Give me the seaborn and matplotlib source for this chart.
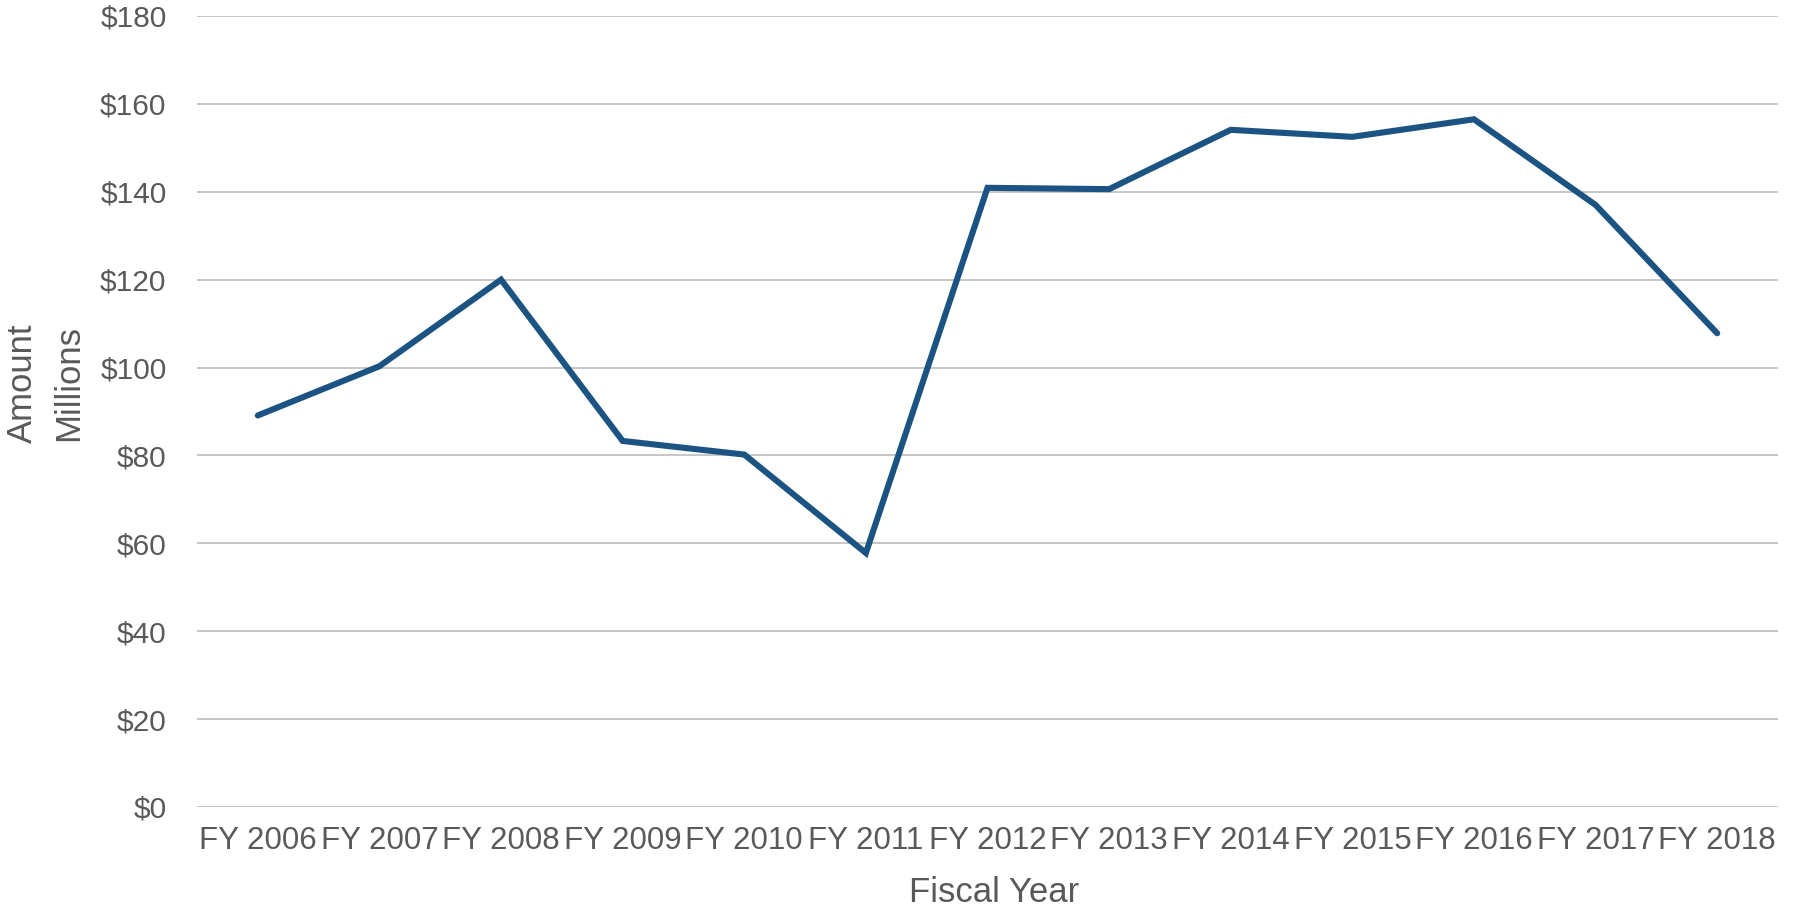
import matplotlib
matplotlib.use("Agg")
import matplotlib.pyplot as plt
import seaborn as sns
import pandas as pd

years = ["FY 2006", "FY 2007", "FY 2008", "FY 2009", "FY 2010", "FY 2011", "FY 2012",
         "FY 2013", "FY 2014", "FY 2015", "FY 2016", "FY 2017", "FY 2018"]
amounts = [89.1, 100.3, 120.0, 83.3, 80.2, 57.8, 140.9, 140.6, 154.1, 152.5, 156.5, 137.0, 107.8]
y_ticks = [0, 20, 40, 60, 80, 100, 120, 140, 160, 180]

df = pd.DataFrame({"Fiscal Year": years, "Amount": amounts})

sns.set_theme(style="white")
plt.rcParams['font.family'] = ['Liberation Sans', 'DejaVu Sans']

text_color = "#595959"
fig = plt.figure(figsize=(17.95, 9.08), dpi=100)
ax = fig.add_axes([197/1795, 1 - 807/908, (1778-197)/1795, (807-16)/908])

sns.lineplot(data=df, x="Fiscal Year", y="Amount", ax=ax, color="#1b5482",
             linewidth=4.4, solid_capstyle="round", solid_joinstyle="miter", sort=False)

ax.set_xlim(-0.5, len(years) - 0.5)
ax.set_ylim(0, 180)
ax.set_yticks(y_ticks)
ax.set_yticklabels([f"${v}" for v in y_ticks])
ax.yaxis.grid(True, color="#c6c6c6", linewidth=1.4)
ax.xaxis.grid(False)
ax.set_axisbelow(True)
for s in ax.spines.values():
    s.set_visible(False)
ax.tick_params(axis="y", length=0, pad=22, labelsize=21.5, labelcolor=text_color)
ax.tick_params(axis="x", length=0, pad=14, labelsize=22.5, labelcolor=text_color)

ax.set_xlabel("Fiscal Year", fontsize=25, color=text_color)
ax.xaxis.set_label_coords(0.5044, -0.087)
ax.set_ylabel("Amount\nMillions", fontsize=25, color=text_color, linespacing=1.52)
ax.yaxis.set_label_coords(-0.0705, 0.536)

fig.savefig("out.png", dpi=100)
